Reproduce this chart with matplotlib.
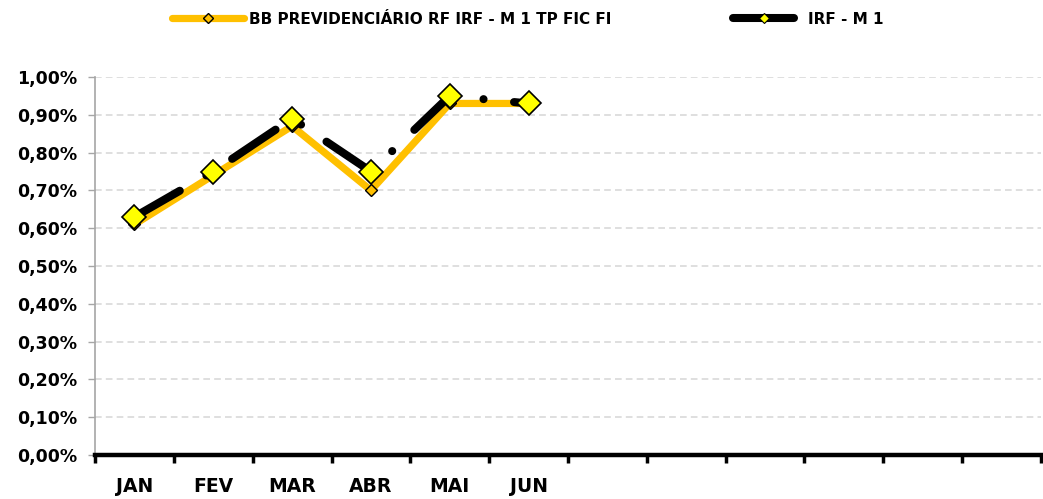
import matplotlib
matplotlib.use("Agg")
import matplotlib.pyplot as plt
from matplotlib.ticker import FuncFormatter, MultipleLocator, FixedLocator
from matplotlib.lines import Line2D

months = ["JAN", "FEV", "MAR", "ABR", "MAI", "JUN", "", "", "", "", "", ""]
bb_fund = [0.61, 0.74, 0.87, 0.70, 0.93, 0.93]
irf_m1 = [0.63, 0.75, 0.89, 0.75, 0.95, 0.93]
series_names = ["BB PREVIDENCIÁRIO RF IRF - M 1 TP FIC FI", "IRF - M 1"]

ORANGE = "#FFC000"
YELLOW = "#FFFF00"
FONT = "DejaVu Sans"

fig = plt.figure(figsize=(10.43, 4.99), dpi=100)
ax = fig.add_axes([95 / 1043, 44 / 499, (1041 - 95) / 1043, (455 - 77) / 499])

x = list(range(len(bb_fund)))
ax.plot(x, bb_fund, color=ORANGE, lw=5.2, marker="D", ms=6, mfc=ORANGE, mec="black",
        mew=1.0, solid_joinstyle="miter", zorder=3)
ax.plot(x, irf_m1, color="black", lw=5.8, linestyle=(0, (6.5, 3.8, 0.01, 3.8)),
        dash_capstyle="round", marker="D", ms=12, mfc=YELLOW, mec="black", mew=1.2, zorder=4)

ax.set_xlim(-0.5, len(months) - 0.5)
ax.set_ylim(0, 1.0)

ax.yaxis.set_major_locator(MultipleLocator(0.1))
ax.yaxis.set_major_formatter(FuncFormatter(lambda v, p: f"{v:.2f}".replace(".", ",") + "%"))
ax.grid(axis="y", color="#D9D9D9", linestyle=(0, (4, 2.5)), lw=1.2, zorder=0)
ax.set_axisbelow(True)

ax.xaxis.set_major_locator(FixedLocator([i - 0.5 for i in range(len(months) + 1)]))
ax.xaxis.set_major_formatter(FuncFormatter(lambda v, p: ""))
ax.xaxis.set_minor_locator(FixedLocator(list(range(len(months)))))
ax.set_xticklabels(months, minor=True)
ax.tick_params(axis="x", which="major", direction="out", length=6, width=2.5, color="black")
ax.tick_params(axis="x", which="minor", length=0, pad=16, labelsize=13.5)
ax.tick_params(axis="y", which="major", direction="out", length=5, width=1, color="#A6A6A6",
               labelsize=12.5, pad=8)
for lab in ax.get_xticklabels(minor=True) + ax.get_yticklabels():
    lab.set_fontfamily(FONT)
    lab.set_fontweight("bold")

for s in ["top", "right"]:
    ax.spines[s].set_visible(False)
ax.spines["left"].set_color("#A6A6A6")
ax.spines["left"].set_linewidth(1.2)
ax.spines["bottom"].set_color("black")
ax.spines["bottom"].set_linewidth(3.2)

h1 = Line2D([], [], color=ORANGE, lw=5.2, marker="D", ms=5, mfc=ORANGE, mec="black", mew=1.0,
            solid_capstyle="round")
h2 = Line2D([], [], color="black", lw=5.8, marker="D", ms=5, mfc=YELLOW, mec="black", mew=0.8,
            solid_capstyle="round")
legprops = dict(family=FONT, weight="bold", size=11)
l1 = fig.legend([h1], [series_names[0]], loc="center left", bbox_to_anchor=(172 / 1043, 1 - 19 / 499),
                frameon=False, borderpad=0, borderaxespad=0, handlelength=4.7, handletextpad=0.35,
                prop=legprops)
l2 = fig.legend([h2], [series_names[1]], loc="center left", bbox_to_anchor=(733 / 1043, 1 - 19 / 499),
                frameon=False, borderpad=0, borderaxespad=0, handlelength=4.0, handletextpad=0.9,
                prop=legprops)

fig.savefig("out.png", dpi=100)
